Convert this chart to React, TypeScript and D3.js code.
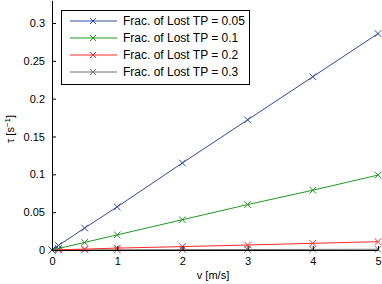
import { useEffect, useRef } from 'react';
import * as d3 from 'd3';

const speeds = [0, 0.1, 0.5, 1, 2, 3, 4, 5];
const fracLabels = ['0.05', '0.1', '0.2', '0.3'];
const tau005 = [0, 0.006, 0.029, 0.057, 0.115, 0.172, 0.229, 0.286];
const tau01 = [0, 0.002, 0.01, 0.02, 0.04, 0.06, 0.079, 0.099];
const tau02 = [0, 0.0003, 0.0012, 0.0025, 0.0045, 0.0066, 0.0088, 0.011];
const tau03 = [0, 0.0001, 0.0002, 0.0003, 0.0005, 0.0006, 0.0008, 0.001];
const xTicks = [0, 1, 2, 3, 4, 5];
const yTicks = [0, 0.05, 0.1, 0.15, 0.2, 0.25, 0.3];

const colours = ['#2e4a9e', '#1f9a1f', '#ff2a2a', '#707070'];
const font = 'Liberation Sans, Arial, Helvetica, sans-serif';

const App = () => {
  const ref = useRef<SVGSVGElement>(null);

  useEffect(() => {
    const svg = d3.select(ref.current);
    svg.selectAll('*').remove();

    const x = d3.scaleLinear().domain([0, 5]).range([52, 378]);
    const y = d3.scaleLinear().domain([0, 0.33]).range([250, 0.3]);

    const series = [tau005, tau01, tau02, tau03];

    // lines + markers, last series drawn first
    const line = d3
      .line<number>()
      .x((d, i) => x(speeds[i]))
      .y((d) => y(d));
    const plot = svg.append('g');
    series.slice().reverse().forEach((vals, ri) => {
      const k = series.length - 1 - ri;
      plot
        .append('path')
        .datum(vals)
        .attr('fill', 'none')
        .attr('stroke', colours[k])
        .attr('stroke-width', 1)
        .attr('d', line);
      vals.forEach((v, i) => {
        const cx = x(speeds[i]);
        const cy = y(v);
        plot
          .append('path')
          .attr('d', `M${cx - 3.3},${cy - 3.3}L${cx + 3.3},${cy + 3.3}M${cx - 3.3},${cy + 3.3}L${cx + 3.3},${cy - 3.3}`)
          .attr('stroke', colours[k])
          .attr('stroke-width', 1);
      });
    });

    // axes
    const xAxis = svg
      .append('g')
      .attr('transform', 'translate(0,250)')
      .call(d3.axisBottom(x).tickValues(xTicks).tickSizeInner(-4).tickSizeOuter(0).tickPadding(7).tickFormat(d3.format('d')));
    const yAxis = svg
      .append('g')
      .attr('transform', 'translate(52,0)')
      .call(
        d3
          .axisLeft(y)
          .tickValues(yTicks)
          .tickSizeInner(-4)
          .tickSizeOuter(0)
          .tickPadding(7)
          .tickFormat((d) => d3.format('~g')(d as number))
      );
    [xAxis, yAxis].forEach((a) => {
      a.selectAll('text').attr('font-family', font).attr('font-size', 11).attr('fill', '#000');
      a.selectAll('line,path').attr('stroke', '#000');
    });

    svg
      .append('text')
      .attr('x', 213)
      .attr('y', 279)
      .attr('text-anchor', 'middle')
      .attr('font-family', font)
      .attr('font-size', 11)
      .text('v [m/s]');

    const yl = svg
      .append('text')
      .attr('transform', 'translate(14,129) rotate(-90)')
      .attr('text-anchor', 'middle')
      .attr('font-family', font)
      .attr('font-size', 11);
    yl.append('tspan').text('τ [s');
    yl.append('tspan').attr('font-size', 8).attr('dy', -4).text('−1');
    yl.append('tspan').attr('dy', 4).text(']');

    // legend
    const lg = svg.append('g');
    lg.append('rect')
      .attr('x', 61.5)
      .attr('y', 10.5)
      .attr('width', 188)
      .attr('height', 74)
      .attr('fill', '#fff')
      .attr('stroke', '#000');
    fracLabels.forEach((f, i) => {
      const ry = 21 + i * 17;
      lg.append('line').attr('x1', 70).attr('x2', 117).attr('y1', ry).attr('y2', ry).attr('stroke', colours[i]);
      lg.append('path')
        .attr('d', `M90,${ry - 3}L96,${ry + 3}M90,${ry + 3}L96,${ry - 3}`)
        .attr('stroke', colours[i]);
      lg.append('text')
        .attr('x', 123)
        .attr('y', ry + 4)
        .attr('font-family', font)
        .attr('font-size', 12)
        .text(`Frac. of Lost TP = ${f}`);
    });
  }, []);

  return <svg ref={ref} width={382} height={284} style={{ position: 'absolute', left: 0, top: 0 }} />;
};

export default App;
